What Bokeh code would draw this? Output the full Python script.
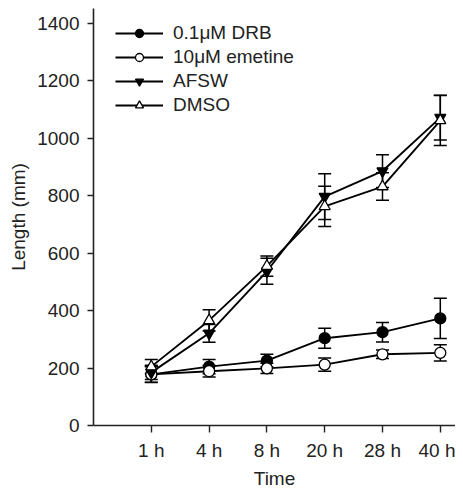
from bokeh.plotting import figure
from bokeh.models import Range1d, FixedTicker, Whisker, ColumnDataSource, Legend, LegendItem, TeeHead
from bokeh.embed import file_html
from bokeh.resources import INLINE

times = ["1 h", "4 h", "8 h", "20 h", "28 h", "40 h"]
y_ticks = [0, 200, 400, 600, 800, 1000, 1200, 1400]

drb = [178, 205, 226, 304, 325, 373]
drb_err = [28, 25, 22, 35, 34, 70]
emetine = [178, 189, 199, 212, 248, 253]
emetine_err = [27, 20, 18, 23, 15, 28]
afsw = [185, 321, 537, 797, 886, 1072]
afsw_err = [25, 31, 45, 80, 57, 78]
dmso = [205, 366, 555, 763, 832, 1062]
dmso_err = [25, 37, 35, 70, 48, 87]

xs = list(range(1, len(times) + 1))
FONT = "Liberation Sans"
FS = "19px"

p = figure(width=455, height=491, output_backend="svg", toolbar_location=None,
           x_range=Range1d(0, 6.263), y_range=Range1d(0, 1452),
           min_border_left=93, min_border_right=0, min_border_top=8, min_border_bottom=66)
p.grid.visible = False
p.outline_line_color = None

for ax in (p.xaxis[0], p.yaxis[0]):
    ax.axis_line_width = 1.6
    ax.axis_line_color = "#222222"
    ax.major_tick_line_color = "#222222"
    ax.major_tick_line_width = 1.4
    ax.minor_tick_line_color = None
    ax.major_tick_in = 0
    ax.major_label_text_font = FONT
    ax.major_label_text_font_size = FS
    ax.major_label_text_color = "#222222"
    ax.axis_label_text_font = FONT
    ax.axis_label_text_font_size = FS
    ax.axis_label_text_font_style = "normal"
    ax.axis_label_text_color = "#222222"

p.xaxis.ticker = FixedTicker(ticks=xs)
p.xaxis.major_label_overrides = {x: t for x, t in zip(xs, times)}
p.xaxis.major_tick_out = 7
p.xaxis.major_label_standoff = 7
p.xaxis.axis_label = "Time"
p.xaxis.axis_label_standoff = 4

p.yaxis.ticker = FixedTicker(ticks=y_ticks)
p.yaxis.major_tick_out = 6
p.yaxis.major_label_standoff = 8
p.yaxis.axis_label = "Length (mm)"
p.yaxis.axis_label_standoff = 5

series = [
    ("0.1\u03bcM DRB", drb, drb_err, "circle", "black"),
    ("10\u03bcM emetine", emetine, emetine_err, "circle", "white"),
    ("AFSW", afsw, afsw_err, "inverted_triangle", "black"),
    ("DMSO", dmso, dmso_err, "triangle", "white"),
]

items = []
for name, vals, errs, marker, fill in series:
    src = ColumnDataSource(dict(
        x=xs, y=vals,
        upper=[v + e for v, e in zip(vals, errs)],
        lower=[v - e for v, e in zip(vals, errs)],
    ))
    w = Whisker(base="x", upper="upper", lower="lower", source=src,
                line_color="black", line_width=1.5,
                upper_head=TeeHead(size=13, line_color="black", line_width=1.5),
                lower_head=TeeHead(size=13, line_color="black", line_width=1.5))
    p.add_layout(w)
    ln = p.line("x", "y", source=src, line_color="black", line_width=1.9)
    sc = p.scatter("x", "y", source=src, marker=marker, size=11,
                   fill_color=fill, line_color="black", line_width=1.3)
    items.append(LegendItem(label=name, renderers=[ln, sc]))

legend = Legend(items=items, location=(22, 309), glyph_width=48, glyph_height=20,
                label_text_font=FONT, label_text_font_size=FS,
                label_text_color="#222222", label_height=20, spacing=2,
                padding=0, margin=0, label_standoff=10,
                border_line_alpha=0, background_fill_alpha=0)
p.add_layout(legend)

open("out.html", "w").write(file_html(p, INLINE))
